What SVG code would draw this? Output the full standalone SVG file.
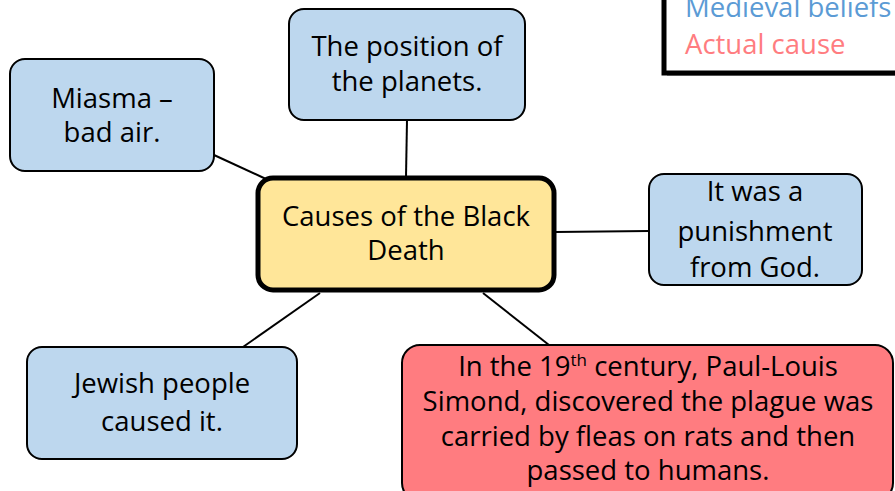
<svg xmlns="http://www.w3.org/2000/svg" width="895" height="491" viewBox="0 0 895 491">
<style>
text{font-family:"Open Sans","Liberation Sans",sans-serif;font-size:27.5px;text-anchor:middle;fill:#000}
.blue{fill:#BDD7EE;stroke:#000;stroke-width:2}
.red{fill:#FF7C80;stroke:#000;stroke-width:2}
.conn{stroke:#000;stroke-width:2;fill:none}
</style>
<rect width="895" height="491" fill="#fff"/>
<g id="legend">
<rect x="667" y="-10" width="240" height="86" fill="#000" opacity="0.35"/>
<rect x="664" y="-10" width="240" height="83" fill="#fff" stroke="#000" stroke-width="5"/>
<text x="685" y="17" style="text-anchor:start;fill:#5B9BD5">Medieval beliefs</text>
<text x="685" y="54" style="text-anchor:start;fill:#FF7C80">Actual cause</text>
</g>
<g id="connectors">
<line class="conn" x1="214" y1="155" x2="266" y2="179"/>
<line class="conn" x1="407" y1="120" x2="406" y2="177"/>
<line class="conn" x1="555" y1="232" x2="649" y2="231"/>
<line class="conn" x1="320" y1="293" x2="243" y2="347"/>
<line class="conn" x1="483" y1="293" x2="549" y2="345"/>
</g>
<g id="miasma">
<rect class="blue" x="10" y="59" width="204" height="112" rx="15"/>
<text x="112" y="108">Miasma –</text>
<text x="112" y="142">bad air.</text>
</g>
<g id="planets">
<rect class="blue" x="289" y="9" width="236" height="111" rx="15"/>
<text x="407" y="56">The position of</text>
<text x="407" y="91">the planets.</text>
</g>
<g id="center">
<rect x="258" y="178" width="296" height="112" rx="15" fill="#FFE699" stroke="#000" stroke-width="5"/>
<text x="406" y="226">Causes of the Black</text>
<text x="406" y="260">Death</text>
</g>
<g id="punishment">
<rect class="blue" x="649" y="174" width="213" height="111" rx="15"/>
<text x="755" y="201">It was a</text>
<text x="755" y="241">punishment</text>
<text x="755" y="277">from God.</text>
</g>
<g id="jewish">
<rect class="blue" x="27" y="347" width="270" height="112" rx="15"/>
<text x="162" y="393">Jewish people</text>
<text x="162" y="431">caused it.</text>
</g>
<g id="actual">
<rect class="red" x="402" y="345" width="491" height="156" rx="18"/>
<text x="648" y="376">In the 19<tspan dy="-10" font-size="17">th</tspan><tspan dy="10"> century, Paul-Louis</tspan></text>
<text x="648" y="411">Simond, discovered the plague was</text>
<text x="648" y="446">carried by fleas on rats and then</text>
<text x="648" y="480">passed to humans.</text>
</g>
</svg>
